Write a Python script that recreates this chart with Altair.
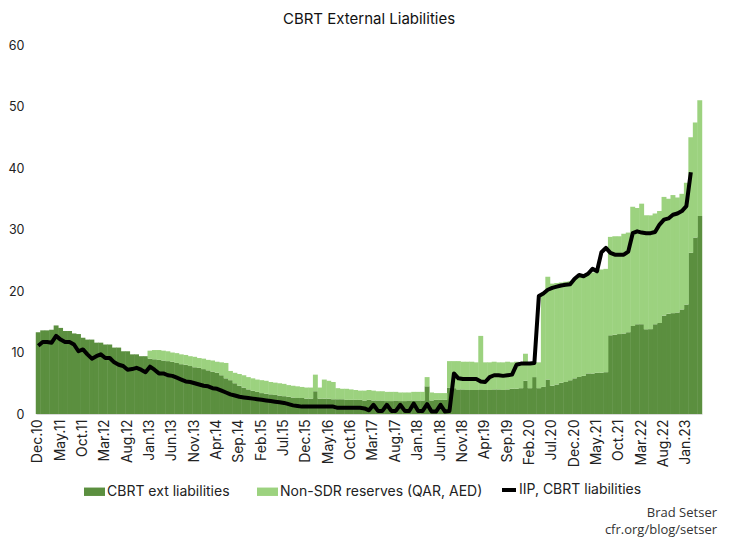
import pandas as pd
import altair as alt

dark_name = "CBRT ext liabilities"
light_name = "Non-SDR reserves (QAR, AED)"
line_name = "IIP, CBRT liabilities"

# monthly, Dec.10 .. Apr.23
months = list(pd.date_range("2010-12-01", periods=149, freq="MS").strftime("%b.%y"))

tick_labels = ["Dec.10", "May.11", "Oct.11", "Mar.12", "Aug.12", "Jan.13",
               "Jun.13", "Nov.13", "Apr.14", "Sep.14", "Feb.15", "Jul.15",
               "Dec.15", "May.16", "Oct.16", "Mar.17", "Aug.17", "Jan.18",
               "Jun.18", "Nov.18", "Apr.19", "Sep.19", "Feb.20", "Jul.20",
               "Dec.20", "May.21", "Oct.21", "Mar.22", "Aug.22", "Jan.23"]

# CBRT ext liabilities (dark green), one row per year
cbrt_ext = (
    [13.3]
    + [13.6, 13.6, 13.7, 14.4, 14.0, 13.5, 13.5, 13.1, 13.0, 12.4, 12.1, 12.1]
    + [11.6, 11.6, 11.3, 11.3, 10.8, 10.8, 10.2, 10.2, 9.7, 9.7, 9.4, 9.4]
    + [9.0, 8.9, 8.8, 8.7, 8.6, 8.5, 8.3, 8.1, 8.0, 7.8, 7.6, 7.5]
    + [7.3, 7.1, 6.9, 6.7, 6.3, 5.8, 5.5, 5.0, 4.6, 4.3, 4.0, 3.8]
    + [3.6, 3.4, 3.3, 3.2, 3.1, 3.0, 2.9, 2.8, 2.7, 2.6, 2.6, 2.5]
    + [2.5, 3.7, 2.5, 2.5, 2.5, 2.4, 2.4, 2.4, 2.3, 2.3, 2.3, 2.3]
    + [2.2, 2.3, 2.2, 2.2, 2.2, 2.1, 2.1, 2.2, 2.1, 2.1, 2.2, 2.2]
    + [2.2, 2.2, 4.5, 2.2, 2.3, 2.3, 2.3, 4.3, 4.2, 4.0, 4.0, 3.9]
    + [3.9, 3.9, 4.0, 3.9, 3.9, 4.0, 4.0, 3.9, 4.0, 4.1, 4.1, 4.2]
    + [5.4, 4.2, 6.0, 4.2, 4.4, 5.6, 4.6, 4.8, 5.1, 5.2, 5.5, 5.8]
    + [6.0, 6.2, 6.6, 6.6, 6.7, 6.7, 6.8, 12.8, 12.9, 13.0, 13.1, 13.3]
    + [14.3, 14.6, 14.6, 13.8, 13.8, 14.6, 14.8, 16.0, 16.3, 16.4, 16.5, 17.0]
    + [17.8, 26.2, 28.7, 32.2]
)

# top of the light green column (ext liabilities + non-SDR reserves)
with_nonsdr = (
    [13.3]
    + [13.6, 13.6, 13.7, 14.4, 14.0, 13.5, 13.5, 13.1, 13.0, 12.4, 12.1, 12.1]
    + [11.6, 11.6, 11.3, 11.3, 10.8, 10.8, 10.2, 10.2, 9.7, 9.7, 9.4, 9.4]
    + [10.3, 10.4, 10.4, 10.3, 10.2, 10.0, 9.9, 9.7, 9.6, 9.4, 9.3, 9.1]
    + [9.0, 8.8, 8.7, 8.5, 8.4, 8.3, 7.0, 6.7, 6.5, 6.3, 6.0, 5.8]
    + [5.6, 5.5, 5.4, 5.2, 5.1, 5.0, 4.9, 4.7, 4.6, 4.5, 4.4, 4.3]
    + [4.3, 6.4, 4.3, 5.6, 5.4, 5.2, 4.2, 4.1, 4.1, 4.0, 3.9, 3.8]
    + [3.8, 3.9, 3.8, 3.7, 3.7, 3.6, 3.6, 3.6, 3.5, 3.5, 3.5, 3.6]
    + [3.6, 3.6, 6.0, 3.5, 3.4, 3.4, 3.4, 8.6, 8.6, 8.6, 8.5, 8.5]
    + [8.5, 8.4, 12.7, 8.4, 8.4, 8.5, 8.4, 8.4, 8.5, 8.4, 8.5, 8.4]
    + [9.8, 8.4, 8.4, 8.4, 19.6, 22.3, 21.2, 21.3, 21.4, 21.5, 21.6, 22.0]
    + [22.3, 22.5, 22.8, 23.0, 23.3, 23.5, 23.6, 28.8, 28.9, 28.9, 29.3, 29.5]
    + [33.7, 33.5, 34.2, 32.3, 32.3, 32.6, 33.0, 35.3, 35.0, 35.6, 35.2, 35.8]
    + [37.6, 45.0, 47.4, 51.0]
)

# IIP, CBRT liabilities (black line), ends Feb.23
iip = (
    [11.1]
    + [11.7, 11.7, 11.6, 12.7, 12.1, 11.7, 11.7, 11.3, 10.2, 10.5, 9.7, 9.0]
    + [9.4, 9.7, 9.1, 9.1, 8.4, 8.0, 7.8, 7.2, 7.3, 7.5, 7.2, 6.8]
    + [7.7, 7.2, 6.6, 6.6, 6.3, 6.2, 5.9, 5.6, 5.3, 5.2, 5.0, 4.8]
    + [4.6, 4.5, 4.2, 4.1, 3.8, 3.5, 3.2, 3.0, 2.8, 2.7, 2.6, 2.5]
    + [2.4, 2.3, 2.2, 2.1, 2.0, 1.9, 1.8, 1.6, 1.4, 1.3, 1.2, 1.2]
    + [1.2, 1.2, 1.2, 1.2, 1.2, 1.2, 1.0, 1.0, 1.0, 1.0, 1.0, 1.0]
    + [0.9, 0.6, 1.5, 0.5, 0.5, 1.5, 0.5, 0.5, 1.5, 0.5, 0.5, 1.7]
    + [0.5, 0.5, 1.6, 0.4, 0.4, 1.5, 0.4, 0.5, 6.6, 5.8, 5.7, 5.7]
    + [5.7, 5.7, 5.3, 5.2, 6.0, 6.3, 6.3, 6.2, 6.3, 6.4, 8.0, 8.2]
    + [8.2, 8.2, 8.3, 19.2, 19.6, 20.2, 20.5, 20.7, 20.9, 21.0, 21.1, 22.0]
    + [22.6, 22.4, 22.8, 23.6, 23.2, 26.3, 27.0, 26.2, 25.9, 25.9, 25.9, 26.4]
    + [29.4, 29.7, 29.5, 29.4, 29.4, 29.6, 30.8, 31.6, 31.8, 32.4, 32.6, 33.0]
    + [33.8, 39.3]
)

footer_lines = ["Brad Setser", "cfr.org/blog/setser"]

dark_green = "#5b8f3f"
light_green = "#9cd27f"
font = "Inter"

nonsdr = [round(t - d, 2) for t, d in zip(with_nonsdr, cbrt_ext)]

bars = pd.DataFrame({
    "month": months * 2,
    "series": [dark_name] * len(months) + [light_name] * len(months),
    "value": cbrt_ext + nonsdr,
    "k": [0] * len(months) + [1] * len(months),
})
line_df = pd.DataFrame({
    "month": months[:len(iip)],
    "value": iip,
    "series": line_name,
})
footer_df = pd.DataFrame({"t": ["\n".join(footer_lines)]})

x = alt.X("month:O",
          scale=alt.Scale(domain=months, paddingInner=0, paddingOuter=0),
          axis=alt.Axis(values=tick_labels, labelAngle=270, ticks=False,
                        domainColor="#d9d9d9", labelFontSize=14,
                        labelPadding=5, labelColor="#222", labelFont=font,
                        labelOverlap=False, title=None))

y = alt.Y("value:Q", stack="zero",
          scale=alt.Scale(domain=[0, 60]),
          axis=alt.Axis(values=[0, 10, 20, 30, 40, 50, 60], grid=False,
                        domain=False, ticks=False, labelPadding=12,
                        labelFontSize=12.5, labelColor="#222", labelFont=font,
                        title=None))

columns = (
alt.Chart(bars)
.mark_bar(width={"band": 1.1})
.encode(
    x=x,
    y=y,
    color=alt.Color("series:N",
        scale=alt.Scale(domain=[dark_name, light_name],
                        range=[dark_green, light_green]),
        legend=alt.Legend(title=None, orient="none", legendX=48, legendY=436,
                          direction="horizontal",
                          symbolType="M-1,-0.4H1V0.4H-1Z", symbolSize=441,
                          symbolStrokeWidth=0, labelFontSize=14,
                          labelFont=font, labelColor="#222", labelOffset=2,
                          labelLimit=300, columnPadding=27)),
    order=alt.Order("k:Q")))

iip_line = (
alt.Chart(line_df)
.mark_line(strokeWidth=4, strokeJoin="round")
.encode(
    x="month:O",
    y="value:Q",
    color=alt.Color("series:N",
        scale=alt.Scale(domain=[line_name], range=["black"]),
        legend=alt.Legend(title=None, orient="none", legendX=464, legendY=436,
                          symbolType="stroke", symbolSize=196,
                          symbolStrokeWidth=4, labelFontSize=14,
                          labelFont=font, labelColor="#222", labelOffset=1,
                          labelLimit=300))))

footer = (
alt.Chart(footer_df)
.mark_text(align="right", baseline="top", lineBreak="\n", lineHeight=17,
           fontSize=13, font="Open Sans", color="#333")
.encode(text="t:N", x=alt.value(681), y=alt.value(462)))

chart = (alt.layer(columns, iip_line, footer)
.resolve_scale(color="independent")
.properties(
    width=666, height=369,
    autosize=alt.AutoSizeParams(type="none"),
    padding={"left": 28, "top": 37, "right": 20, "bottom": 125},
    title=alt.TitleParams("CBRT External Liabilities", fontSize=15,
                          font=font, fontWeight="normal", color="#111",
                          anchor="middle", offset=12))
.configure(font=font)
.configure_view(stroke=None))

chart.save("out.html", embed_options={"renderer": "svg", "actions": False})
